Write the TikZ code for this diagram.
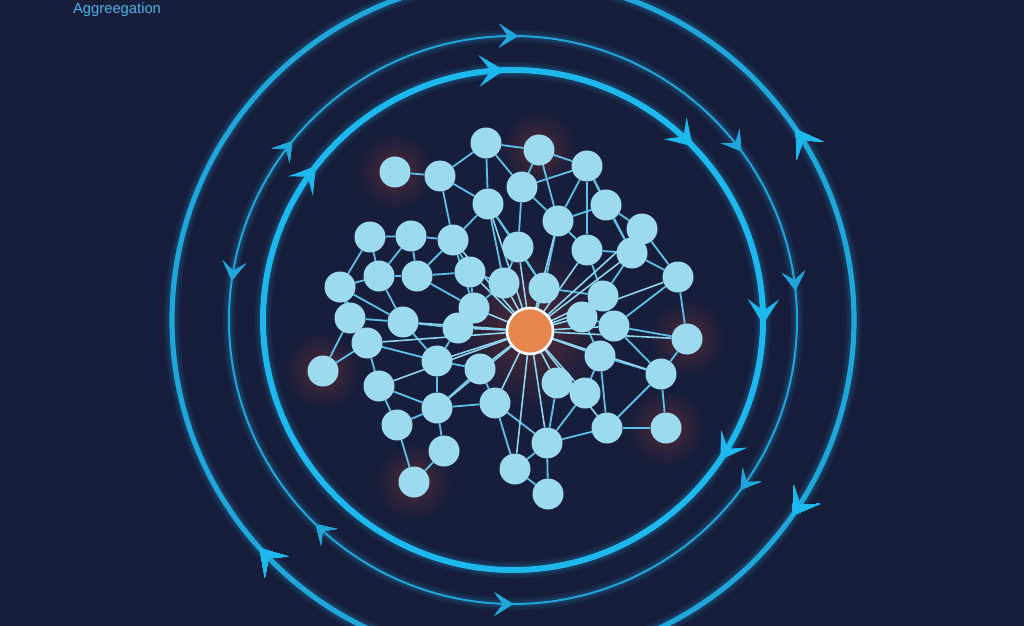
\documentclass[tikz,border=0pt]{standalone}
\usepackage{fontspec}
\setmainfont{Liberation Sans}
\usetikzlibrary{calc}
\definecolor{navy}{HTML}{161E3C}
\definecolor{ringblue}{HTML}{1FA6DB}
\definecolor{ringbright}{HTML}{1DB8EE}
\definecolor{dotblue}{HTML}{9CDAF0}
\definecolor{linkblue}{HTML}{5DC2E8}
\definecolor{spokeblue}{HTML}{8ED6F0}
\definecolor{huborange}{HTML}{E8874D}
\definecolor{glowred}{HTML}{C8402E}
\definecolor{labelblue}{HTML}{4FB2E4}
\newcommand\flowtip[5]{% ring radius, angle, direction (1 ccw, -1 cw), size, colour
  \pgfmathsetmacro\th{#2+90*#3}
  \pgfmathsetmacro\inl{0.45*#4}
  \coordinate (tp) at ($(O)+(#2:#1)$);
  \fill[#5] (tp) -- ($(tp)+(\th+148:#4)$) -- ($(tp)+(\th+180:\inl)$) -- ($(tp)+(\th+212:#4)$) -- cycle;
}
\newcommand\halo[2]{% node, radius of the glow
  \foreach \k/\p in {9/4,8/7,7/10,6/14,5/18,4/23,3/28,2/33}{
    \pgfmathsetmacro\rr{#2*\k/9}
    \fill[glowred!\p!navy] (#1) circle [radius=\rr];
  }
}

\begin{document}
\begin{tikzpicture}[x=0.5mm, y=0.5mm,
    spot/.style={circle, minimum size=15.5mm, inner sep=0pt},
    link/.style={linkblue, line width=0.9mm},
    spoke/.style={spokeblue, line width=0.8mm},
    thickring/.style={ringbright, line width=3mm},
    outerring/.style={ringblue, line width=2.6mm},
    thinring/.style={ringblue, line width=1mm}]
  \useasboundingbox (0,0) rectangle (1024,-626);
  \fill[navy] (0,0) rectangle (1024,-626);
  \coordinate (O) at (513,-320); % centre of the rings
  % rings with a soft halo
  \foreach \r/\w in {250/3,284/1,341/2.6}{
    \draw[ringblue!9!navy, line width=\w mm+5mm] (O) circle [radius=\r];
    \draw[ringblue!20!navy, line width=\w mm+2.4mm] (O) circle [radius=\r];
  }
  \draw[thickring] (O) circle [radius=250];
  \draw[thinring] (O) circle [radius=284];
  \draw[outerring] (O) circle [radius=341];
  \foreach \a in {142,92,44,-1,-34} \flowtip{250}{\a}{-1}{30}{ringbright}
  \foreach \a/\s in {89/-1,36.5/-1,6/-1,-36.7/-1,-90/1,-134/-1,172/1,141/-1} \flowtip{284}{\a}{\s}{22}{ringblue}
  \foreach \a/\s in {34/1,-35/-1,-138/-1} \flowtip{341}{\a}{\s}{30}{ringbright}
  % network nodes
  \node[spot] (n1) at (486,-143) {};
  \node[spot] (n2) at (539,-150) {};
  \node[spot] (n3) at (587,-166) {};
  \node[spot] (n4) at (395,-172) {};
  \node[spot] (n5) at (440,-176) {};
  \node[spot] (n6) at (522,-187) {};
  \node[spot] (n7) at (488,-204) {};
  \node[spot] (n8) at (606,-205) {};
  \node[spot] (n9) at (558,-221) {};
  \node[spot] (n10) at (642,-229) {};
  \node[spot] (n11) at (370,-237) {};
  \node[spot] (n12) at (411,-236) {};
  \node[spot] (n13) at (453,-240) {};
  \node[spot] (n14) at (518,-247) {};
  \node[spot] (n15) at (587,-250) {};
  \node[spot] (n16) at (632,-253) {};
  \node[spot] (n17) at (340,-287) {};
  \node[spot] (n18) at (379,-276) {};
  \node[spot] (n19) at (417,-276) {};
  \node[spot] (n20) at (470,-272) {};
  \node[spot] (n21) at (504,-283) {};
  \node[spot] (n22) at (544,-288) {};
  \node[spot] (n23) at (678,-277) {};
  \node[spot] (n24) at (603,-296) {};
  \node[spot] (n25) at (350,-318) {};
  \node[spot] (n26) at (403,-322) {};
  \node[spot] (n27) at (474,-308) {};
  \node[spot] (n28) at (458,-328) {};
  \node[spot] (n29) at (582,-317) {};
  \node[spot] (n30) at (614,-326) {};
  \node[spot] (n31) at (367,-343) {};
  \node[spot] (n32) at (687,-339) {};
  \node[spot] (n33) at (323,-371) {};
  \node[spot] (n34) at (437,-361) {};
  \node[spot] (n35) at (480,-369) {};
  \node[spot] (n36) at (600,-356) {};
  \node[spot] (n37) at (557,-383) {};
  \node[spot] (n38) at (661,-374) {};
  \node[spot] (n39) at (585,-393) {};
  \node[spot] (n40) at (379,-386) {};
  \node[spot] (n41) at (437,-408) {};
  \node[spot] (n42) at (495,-403) {};
  \node[spot] (n43) at (666,-428) {};
  \node[spot] (n44) at (607,-428) {};
  \node[spot] (n45) at (397,-425) {};
  \node[spot] (n46) at (547,-443) {};
  \node[spot] (n47) at (444,-451) {};
  \node[spot] (n48) at (414,-482) {};
  \node[spot] (n49) at (515,-469) {};
  \node[spot] (n50) at (548,-494) {};
  \node[spot, minimum size=23mm] (hub) at (530,-331) {};
  % glows
  \halo{hub}{74}
  \halo{n2}{36} \halo{n4}{36} \halo{n32}{36} \halo{n33}{36} \halo{n43}{36} \halo{n48}{36}
  % links
  \foreach \a/\b in {4/5, 5/1, 1/2, 2/3, 1/6, 1/7, 2/6, 2/9, 6/3, 3/8, 3/9, 3/15, 5/7, 5/13,
      7/13, 7/14, 6/14, 6/9, 7/22, 8/9, 8/10, 8/16, 9/15, 9/22, 15/16, 15/24, 10/16,
      16/23, 16/24, 14/21, 14/22, 11/12, 11/18, 11/17, 12/13, 12/18, 12/19, 13/20, 13/19,
      18/19, 17/18, 17/25, 17/26, 18/26, 19/20, 19/27, 20/21, 20/27, 25/31, 25/26, 26/28,
      26/34, 31/33, 25/33, 31/40, 31/34, 40/41, 40/45, 41/45, 41/47, 45/48, 47/48, 41/42,
      34/41, 34/35, 35/42, 34/28, 23/32, 23/30, 24/30, 24/29, 30/32, 30/38, 32/38, 36/38,
      36/44, 38/43, 38/44, 43/44, 37/39, 39/46, 44/46, 29/36, 36/39, 42/46, 46/49, 46/50,
      49/50, 42/49, 3/16, 7/21, 22/24, 10/23, 27/28, 21/27, 29/30, 37/46, 35/41, 17/31, 13/27}
    \draw[link] (n\a) -- (n\b);
  \foreach \b in {20,21,22,27,28,29,30,24,36,37,39,35,42,46,49,14,7,15,16,31,26,34,44,38,9,32,23,41,10,13,40}
    \draw[spoke] (hub) -- (n\b);
  % dots on top
  \foreach \i in {1,...,50} \fill[dotblue] (n\i) circle [radius=15.5];
  \filldraw[fill=huborange, draw=white, line width=1.3mm] (hub) circle [radius=23];
  \node[anchor=base west, text=labelblue, inner sep=0pt, font=\fontsize{21}{24}\selectfont] (title) at (73,-14) {Aggreegation};
\end{tikzpicture}
\end{document}
